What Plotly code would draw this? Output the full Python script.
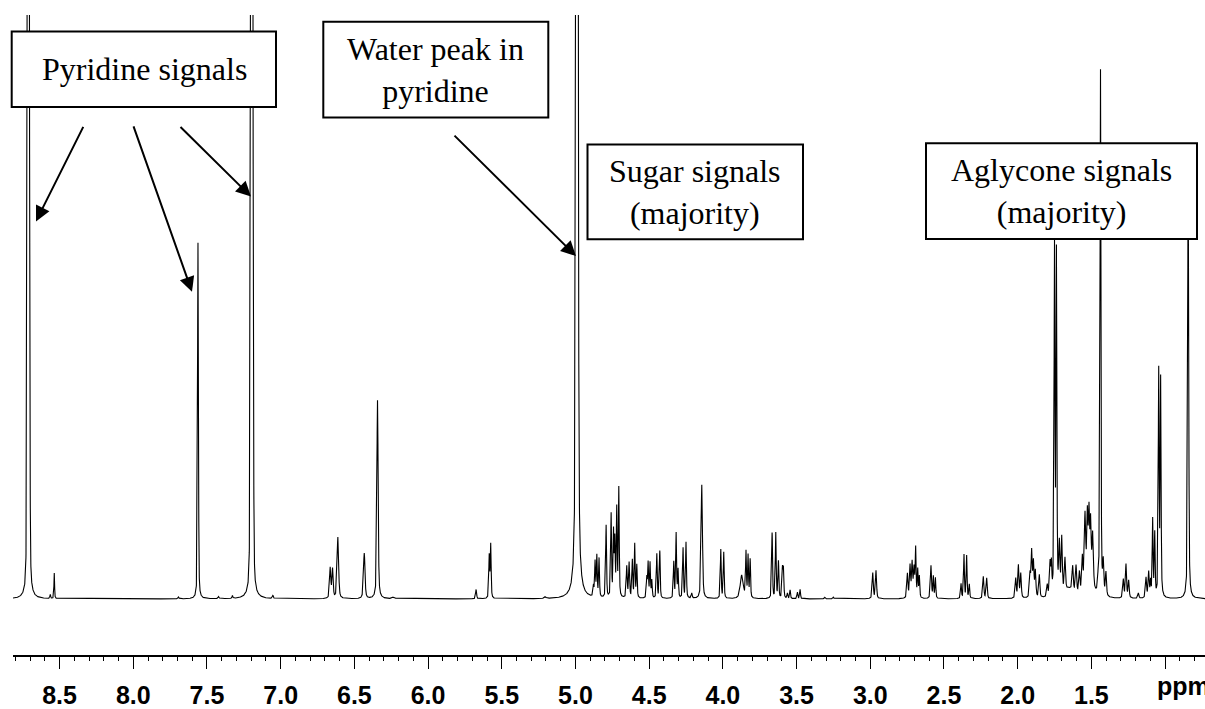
import numpy as np
import plotly.graph_objects as go

# ---------------- data ----------------
# peak centres (ppm), intensities (relative units, 100 = top of frame),
# half-widths (ppm) and Lorentzian fraction of each line
peak_ppm = [8.712, 8.563, 8.536, 7.693, 7.561, 7.421, 7.327, 7.196, 7.053,
            6.664, 6.648, 6.612, 6.433, 6.343, 6.235, 5.674, 5.585, 5.575, 5.205, 4.990,
            4.878, 4.867, 4.855, 4.840, 4.792, 4.758, 4.742, 4.733, 4.720, 4.706,
            4.652, 4.636, 4.614, 4.598, 4.584, 4.516, 4.507, 4.494, 4.482, 4.448, 4.428,
            4.333, 4.317, 4.304, 4.270, 4.250, 4.211, 4.143, 4.014, 3.994,
            3.872, 3.843, 3.829, 3.815, 3.666, 3.641, 3.623, 3.596, 3.589,
            3.562, 3.544, 3.494, 3.476, 3.307, 3.250,
            2.983, 2.961, 2.748, 2.730, 2.716, 2.703, 2.692, 2.678, 2.667,
            2.588, 2.572, 2.558, 2.384, 2.364, 2.346, 2.328, 2.233, 2.210,
            2.013, 1.995, 1.979, 1.916, 1.905, 1.893, 1.880, 1.853,
            1.799, 1.780, 1.771, 1.750, 1.737, 1.717, 1.701, 1.679,
            1.627, 1.604, 1.581, 1.561, 1.543, 1.527, 1.516, 1.505, 1.491,
            1.452, 1.438, 1.419, 1.401, 1.283, 1.265, 1.247, 1.181,
            1.129, 1.111, 1.098, 1.084, 1.070, 1.043, 1.030, 0.843,
            1.520, 1.650]
peak_height = [300, 0.7, 4.4, 0.3, 61, 0.35, 0.5, 300, 0.5,
               5.2, 5.0, 10.5, 7.8, 34, 0.3, 1.6, 7.3, 9.2, 0.3, 350,
               1.8, 6.0, 7.0, 6.6, 12.4, 14.2, 11.0, 9.5, 15.0, 18.6,
               5.4, 6.0, 6.4, 9.2, 5.6, 3.5, 6.0, 6.0, 3.0, 7.6, 8.1,
               6.2, 11.1, 4.8, 8.6, 9.6, 0.9, 19.5, 8.4, 7.9,
               4.0, 7.8, 7.2, 6.6, 11.2, 11.2, 6.3, 5.0, 4.9,
               0.9, 1.5, 1.1, 1.6, 0.3, 0.3,
               4.4, 4.8, 4.2, 5.5, 6.0, 5.0, 8.4, 4.8, 3.7,
               5.6, 3.7, 3.5, 2.5, 7.5, 7.3, 2.4, 3.8, 3.5,
               3.4, 5.6, 4.2, 4.0, 7.8, 6.0, 4.5, 3.9,
               2.0, 5.6, 5.0, 59, 58, 8.3, 9.3, 5.5,
               4.1, 4.5, 3.5, 5.6, 12.0, 11.0, 11.3, 10.0, 9.0,
               3.4, 90, 5.4, 4.0, 3.2, 5.8, 3.0, 0.9,
               3.5, 4.4, 2.7, 13.3, 10.8, 38.5, 37, 75,
               3.0, 1.5]
peak_hwhm = [0.006, 0.003, 0.0025, 0.004, 0.0035, 0.004, 0.003, 0.0065, 0.004,
             0.005, 0.005, 0.006, 0.006, 0.005, 0.01, 0.004, 0.0035, 0.0035, 0.006, 0.0065,
             0.0035, 0.0035, 0.0035, 0.0035, 0.0035, 0.0035, 0.0035, 0.0035, 0.0035, 0.0035,
             0.004, 0.004, 0.0035, 0.0035, 0.0035, 0.0035, 0.0035, 0.0035, 0.0035, 0.0035, 0.0035,
             0.0035, 0.0035, 0.0035, 0.0035, 0.0035, 0.004, 0.0055, 0.0035, 0.0035,
             0.012, 0.0035, 0.0035, 0.0035, 0.0035, 0.0035, 0.0035, 0.0035, 0.0035,
             0.0035, 0.0035, 0.0035, 0.0035, 0.004, 0.004,
             0.0045, 0.0045, 0.0045, 0.0045, 0.0045, 0.0045, 0.0035, 0.0035, 0.0035,
             0.0045, 0.0035, 0.0035, 0.0035, 0.0035, 0.0035, 0.0035, 0.0045, 0.0045,
             0.0045, 0.0045, 0.0045, 0.0045, 0.0045, 0.0045, 0.0045, 0.0045,
             0.0045, 0.0045, 0.0035, 0.0035, 0.0035, 0.0045, 0.0045, 0.0045,
             0.0045, 0.0045, 0.0045, 0.0045, 0.0055, 0.0045, 0.0045, 0.0045, 0.0055,
             0.0045, 0.0035, 0.0045, 0.0045, 0.0045, 0.0045, 0.0045, 0.0045,
             0.0045, 0.0045, 0.0035, 0.0035, 0.0035, 0.0035, 0.0035, 0.004,
             0.03, 0.05]
peak_eta = [0.15, 0.5, 0.5, 0.5, 0.4, 0.5, 0.5, 0.15, 0.5,
            0.5, 0.5, 0.5, 0.5, 0.5, 0.5, 0.5, 0.5, 0.5, 0.5, 0.3] + [0.5] * 106

# axis ticks
tick_values = [8.5, 8.0, 7.5, 7.0, 6.5, 6.0, 5.5, 5.0, 4.5, 4.0, 3.5, 3.0, 2.5, 2.0, 1.5, 1.0]
tick_labels = ["8.5", "8.0", "7.5", "7.0", "6.5", "6.0", "5.5", "5.0", "4.5", "4.0",
               "3.5", "3.0", "2.5", "2.0", "1.5", ""]
unit_label = "ppm"
x_range = [8.816, 0.729]

# annotation boxes
box_texts = ["Pyridine signals", "Water peak in<br>pyridine",
             "Sugar signals<br>(majority)", "Aglycone signals<br>(majority)"]

# ---------------- build spectrum ----------------
grid = np.arange(x_range[1], x_range[0], 0.0004)
ppm = np.union1d(grid, np.array(peak_ppm))
intensity = np.zeros_like(ppm)
for c, h, w, eta in zip(peak_ppm, peak_height, peak_hwhm, peak_eta):
    d = (ppm - c) / w
    lor = 1.0 / (1.0 + d * d)
    gau = np.exp(-np.log(2) * d * d)
    intensity += h * (eta * lor + (1 - eta) * gau)

W, H = 1205, 709
ML, MR, MT, MB = 13, 0, 15, 49
PW, PH = W - ML - MR, H - MT - MB


def px(x):
    return (x - ML) / PW


def py(y):
    return (H - MB - y) / PH


fig = go.Figure()
fig.add_trace(go.Scatter(x=ppm, y=intensity, mode="lines",
                         line=dict(color="black", width=1.1), hoverinfo="skip",
                         showlegend=False))

# boxes (pixel geometry)
box_geom = [(11.7, 31.7, 276, 107.7), (323.3, 21.7, 548.3, 118.3),
            (587.5, 145.5, 803, 241), (926, 144.3, 1197, 240.7)]
text_pos = [(144, 69), (436, 70), (695, 193.5), (1061.5, 192.5)]
for (x0, y0, x1, y1), txt, (tx, ty) in zip(box_geom, box_texts, text_pos):
    fig.add_shape(type="rect", xref="paper", yref="paper",
                  x0=px(x0), x1=px(x1), y0=py(y1), y1=py(y0),
                  line=dict(color="black", width=2), fillcolor="white", layer="above")
    fig.add_annotation(xref="paper", yref="paper", x=px(tx), y=py(ty),
                       text=txt, showarrow=False, xanchor="center", yanchor="middle",
                       font=dict(family="Liberation Serif, Times New Roman, serif",
                                 size=32, color="black"))

# arrows: (tail_x, tail_y, tip_x, tip_y) in pixels
arrows = [(84, 127, 36, 223), (133, 127, 192, 294), (179, 127, 251, 198),
          (453, 136, 576, 258)]
for tx0, ty0, tx1, ty1 in arrows:
    fig.add_annotation(xref="paper", yref="paper", x=px(tx1), y=py(ty1),
                       ax=tx0 - tx1, ay=ty0 - ty1, axref="pixel", ayref="pixel",
                       text="", showarrow=True, arrowhead=2, arrowsize=1.5,
                       arrowwidth=2, arrowcolor="black", standoff=0, startstandoff=0)

# unit label
fig.add_annotation(xref="paper", yref="paper", x=px(1155), y=py(691),
                   text="<b>" + unit_label + "</b>", showarrow=False,
                   xanchor="left", yanchor="middle",
                   font=dict(family="Liberation Sans, Arial, sans-serif", size=25,
                             color="black"))

fig.update_layout(
    width=W, height=H,
    margin=dict(l=ML, r=MR, t=MT, b=MB, pad=0),
    paper_bgcolor="white", plot_bgcolor="white",
    xaxis=dict(range=x_range, tickmode="array", tickvals=tick_values,
               ticktext=tick_labels, ticks="outside", ticklen=12, tickwidth=1.3,
               tickcolor="black", showline=True, linecolor="black", linewidth=1.5,
               showgrid=False, zeroline=False, ticklabelstandoff=5,
               tickfont=dict(family="Liberation Sans, Arial, sans-serif", size=25,
                             color="black", weight="bold"),
               minor=dict(tickmode="linear", tick0=0, dtick=0.1, ticks="outside",
                          ticklen=4, tickwidth=1.2, tickcolor="black", showgrid=False)),
    yaxis=dict(range=[-9.6, 100], visible=False, showgrid=False, zeroline=False),
)

fig.write_html("out.html")
